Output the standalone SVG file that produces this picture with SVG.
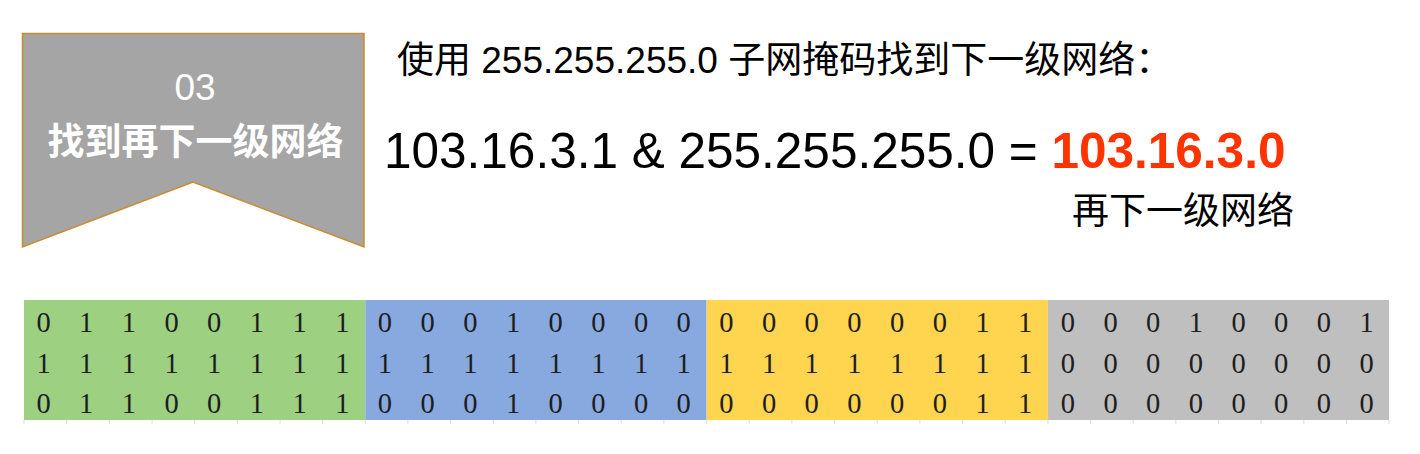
<svg xmlns="http://www.w3.org/2000/svg" width="1420" height="454" viewBox="0 0 1420 454">
  <style>
    .sans { font-family: "Liberation Sans", Arial, "Noto Sans CJK SC", sans-serif; }
    .banner-text { fill: #ffffff; font-size: 37px; text-anchor: middle; }
    .title { fill: #000000; font-size: 37px; }
    .eq { fill: #000000; font-size: 49.5px; }
    .res { fill: #ff3300; font-weight: bold; }
    .bits { font-family: "Liberation Serif", "Times New Roman", serif; font-size: 28.5px; fill: #1e1e1e; text-anchor: middle; }
  </style>
  <rect width="1420" height="454" fill="#ffffff"/>

  <g id="banner">
    <polygon points="22.5,33.5 364,33.5 364,247 193,182 22.5,247" fill="#a5a5a5" stroke="#c98c2e" stroke-width="1.5"/>
    <text class="sans banner-text" x="195" y="100" font-size="39">03</text>
    <text class="sans banner-text" x="195.5" y="155" font-weight="bold">找到再下一级网络</text>
  </g>

  <g id="title">
    <text class="sans title" x="397" y="73">使用 255.255.255.0 子网掩码找到下一级网络：</text>
  </g>

  <g id="equation">
    <text class="sans eq" x="384" y="168">103.16.3.1 &amp; 255.255.255.0 = <tspan class="res">103.16.3.0</tspan></text>
  </g>

  <g id="result-label">
    <text class="sans title" x="1072" y="224">再下一级网络</text>
  </g>

  <g id="table">
    <rect x="24" y="300" width="341.3" height="120" fill="#9dd181"/>
    <rect x="365.3" y="300" width="341.3" height="120" fill="#88a9df"/>
    <rect x="706.6" y="300" width="341.3" height="120" fill="#ffd54f"/>
    <rect x="1047.9" y="300" width="341.1" height="120" fill="#bfbfbf"/>
    <path d="M24 420v4M66.7 420v4M109.3 420v4M152 420v4M194.6 420v4M237.3 420v4M280 420v4M322.6 420v4M365.3 420v4M407.9 420v4M450.6 420v4M493.3 420v4M535.9 420v4M578.6 420v4M621.2 420v4M663.9 420v4M706.6 420v4M749.2 420v4M791.9 420v4M834.5 420v4M877.2 420v4M919.9 420v4M962.5 420v4M1005.2 420v4M1047.9 420v4M1090.5 420v4M1133.2 420v4M1175.8 420v4M1218.5 420v4M1261.1 420v4M1303.8 420v4M1346.4 420v4M1389 420v4" stroke="#dcdcdc" stroke-width="1" fill="none"/>
    <text class="bits" y="332" x="43.5 86.2 128.9 171.5 214.2 256.9 299.6 342.3 384.9 427.6 470.3 513.0 555.7 598.3 641.0 683.7 726.4 769.1 811.7 854.4 897.1 939.8 982.5 1025.1 1067.8 1110.5 1153.2 1195.9 1238.5 1281.2 1323.9 1366.6">01100111000100000000001100010001</text>
    <text class="bits" y="372.5" x="43.5 86.2 128.9 171.5 214.2 256.9 299.6 342.3 384.9 427.6 470.3 513.0 555.7 598.3 641.0 683.7 726.4 769.1 811.7 854.4 897.1 939.8 982.5 1025.1 1067.8 1110.5 1153.2 1195.9 1238.5 1281.2 1323.9 1366.6">11111111111111111111111100000000</text>
    <text class="bits" y="413" x="43.5 86.2 128.9 171.5 214.2 256.9 299.6 342.3 384.9 427.6 470.3 513.0 555.7 598.3 641.0 683.7 726.4 769.1 811.7 854.4 897.1 939.8 982.5 1025.1 1067.8 1110.5 1153.2 1195.9 1238.5 1281.2 1323.9 1366.6">01100111000100000000001100000000</text>
  </g>
</svg>
